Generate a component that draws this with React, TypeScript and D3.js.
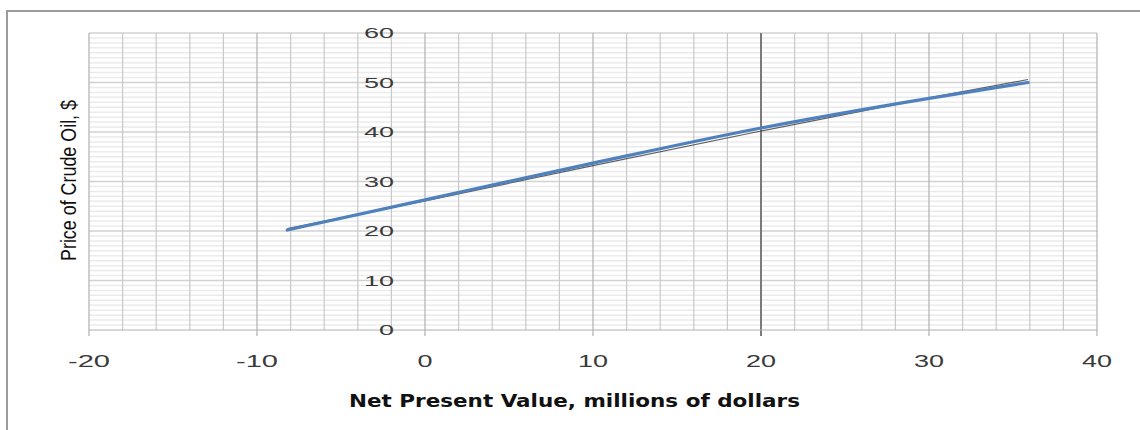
import { useEffect, useRef } from "react";
import * as d3 from "d3";

// Price of crude oil vs. NPV
const npvValues = [-8.2, 0, 10, 20, 30, 35.9];
const priceValues = [20.2, 26.3, 33.7, 40.8, 46.8, 50.0];

// thin dark series that sits almost under the blue one
const trendNpv = [-8.2, 0, 10, 20, 30, 35.9];
const trendPrice = [20.5, 26.1, 33.2, 40.2, 46.9, 50.6];

const xTicks = [-20, -10, 0, 10, 20, 30, 40];
const yTicks = [0, 10, 20, 30, 40, 50, 60];

const xTitle = "Net Present Value, millions of dollars";
const yTitle = "Price of Crude Oil, $";

export default function App() {
  const svgRef = useRef<SVGSVGElement>(null);

  useEffect(() => {
    if (!svgRef.current) return;
    const svg = d3.select(svgRef.current);
    svg.selectAll("*").remove();

    const width = 1140;
    const height = 430;
    const margin = { top: 33, right: 43, bottom: 100, left: 89 };

    const x = d3.scaleLinear().domain([-20, 40]).range([margin.left, width - margin.right]);
    const y = d3.scaleLinear().domain([0, 60]).range([height - margin.bottom, margin.top]);

    svg.append("rect").attr("width", width).attr("height", height).attr("fill", "#fff");

    // outer chart frame (runs off the right and bottom edges)
    svg
      .append("rect")
      .attr("x", 7)
      .attr("y", 11)
      .attr("width", width + 20)
      .attr("height", height + 20)
      .attr("fill", "none")
      .attr("stroke", "#9c9c9c")
      .attr("stroke-width", 2);

    const grid = svg.append("g");

    // horizontal gridlines every unit, darker every 10
    d3.range(1, 61).forEach((v) => {
      grid
        .append("line")
        .attr("x1", x(-20))
        .attr("x2", x(40))
        .attr("y1", y(v))
        .attr("y2", y(v))
        .attr("stroke", v % 10 === 0 ? "#d2d2d2" : "#ebebeb")
        .attr("stroke-width", 1.5);
    });

    // vertical gridlines every 2
    d3.range(-20, 41, 2).forEach((v) => {
      const major = v % 10 === 0;
      grid
        .append("line")
        .attr("x1", x(v))
        .attr("x2", x(v))
        .attr("y1", y(60))
        .attr("y2", major ? y(0) + 6 : y(0))
        .attr("stroke", v === 20 ? "#7a7a7a" : major ? "#b0b0b0" : "#c9c9c9")
        .attr("stroke-width", v === 20 ? 2 : 1.2);
    });

    // x baseline
    grid
      .append("line")
      .attr("x1", x(-20))
      .attr("x2", x(40))
      .attr("y1", y(0))
      .attr("y2", y(0))
      .attr("stroke", "#b0b0b0")
      .attr("stroke-width", 1.2);

    // y tick labels, next to the x = 0 axis
    yTicks.forEach((t) => {
      const s = String(t);
      svg
        .append("text")
        .attr("x", x(0) - 31)
        .attr("y", y(t))
        .attr("dy", "0.36em")
        .attr("text-anchor", "end")
        .attr("font-family", "Liberation Sans, Arial, sans-serif")
        .attr("font-size", 15)
        .attr("fill", "#3a3a3a")
        .attr("textLength", s.length * 15)
        .attr("lengthAdjust", "spacingAndGlyphs")
        .text(s);
    });

    // x tick labels
    xTicks.forEach((t) => {
      const s = String(t);
      const len = s.replace("-", "").length * 15 + (t < 0 ? 12 : 0);
      svg
        .append("text")
        .attr("x", x(t) - len / 2)
        .attr("y", 367)
        .attr("font-family", "Liberation Sans, Arial, sans-serif")
        .attr("font-size", 16)
        .attr("fill", "#3a3a3a")
        .attr("textLength", len)
        .attr("lengthAdjust", "spacingAndGlyphs")
        .text(s);
    });

    // axis titles
    svg
      .append("text")
      .attr("x", 349)
      .attr("y", 407)
      .attr("font-family", "DejaVu Sans, sans-serif")
      .attr("font-weight", "bold")
      .attr("font-size", 17)
      .attr("fill", "#111")
      .attr("textLength", 451)
      .attr("lengthAdjust", "spacingAndGlyphs")
      .text(xTitle);

    svg
      .append("text")
      .attr("transform", "translate(76,261) rotate(-90)")
      .attr("font-family", "Liberation Sans Narrow, Liberation Sans, sans-serif")
      .attr("font-size", 22)
      .attr("fill", "#111")
      .attr("textLength", 161)
      .attr("lengthAdjust", "spacingAndGlyphs")
      .text(yTitle);

    // series
    const line = d3
      .line<number>()
      .x((_, i) => x(npvValues[i]))
      .y((d) => y(d))
      .curve(d3.curveMonotoneX);

    const trend = d3
      .line<number>()
      .x((_, i) => x(trendNpv[i]))
      .y((d) => y(d));

    svg
      .append("path")
      .attr("d", trend(trendPrice))
      .attr("fill", "none")
      .attr("stroke", "#3a3a3a")
      .attr("stroke-opacity", 0.8)
      .attr("stroke-width", 1.2);

    svg
      .append("path")
      .attr("d", line(priceValues))
      .attr("fill", "none")
      .attr("stroke", "#4f81bd")
      .attr("stroke-width", 3.2)
      .attr("stroke-linecap", "round");
  }, []);

  return (
    <svg
      ref={svgRef}
      width={1140}
      height={430}
      viewBox="0 0 1140 430"
      style={{ position: "absolute", left: 0, top: 0, display: "block" }}
    />
  );
}
